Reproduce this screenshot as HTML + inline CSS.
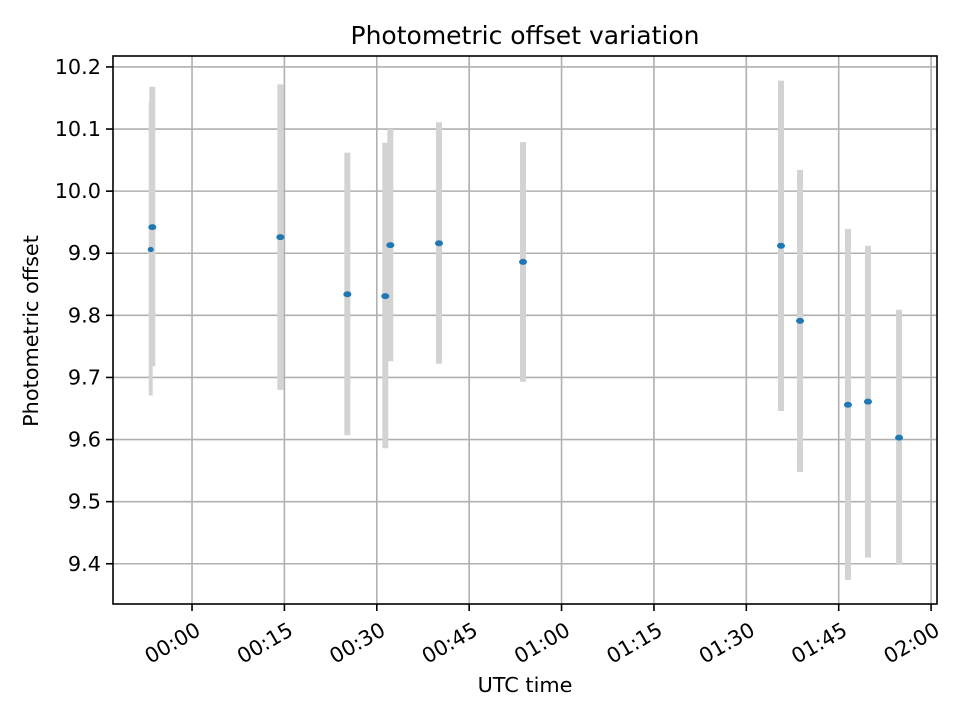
<!DOCTYPE html>
<html><head><meta charset="utf-8"><style>
body{margin:0;background:#fff}
svg{display:block;font-family:"DejaVu Sans","Liberation Sans",sans-serif}
</style></head><body>
<svg id="chart" width="960" height="720" viewBox="0 0 960 720" xmlns="http://www.w3.org/2000/svg">
<rect width="960" height="720" fill="#fff"/>
<g id="grid"></g><g id="bars"></g><g id="pts"></g><g id="axes"></g>
</svg>
<script>
const timesMin = [-6.71, -6.45, 14.34, 25.22, 31.38, 32.2, 40.1, 53.74, 95.63, 98.72, 106.5, 109.75, 114.8];
const offsets = [9.906, 9.942, 9.926, 9.834, 9.831, 9.913, 9.916, 9.886, 9.912, 9.791, 9.656, 9.661, 9.603];
const errLow = [9.671, 9.718, 9.68, 9.607, 9.586, 9.726, 9.722, 9.693, 9.646, 9.548, 9.374, 9.41, 9.398];
const errHigh = [10.143, 10.168, 10.172, 10.062, 10.078, 10.1, 10.111, 10.079, 10.178, 10.034, 9.939, 9.912, 9.809];
const yTicks = [9.4, 9.5, 9.6, 9.7, 9.8, 9.9, 10.0, 10.1, 10.2];
const xTicks = [0, 15, 30, 45, 60, 75, 90, 105, 120];
const xTickLabels = ["00:00","00:15","00:30","00:45","01:00","01:15","01:30","01:45","02:00"];

const L=113,R=937,T=56,B=604;
const xMin=-12.83,xMax=120.96,yMin=9.3352,yMax=10.2176;
const X=m=>L+(m-xMin)/(xMax-xMin)*(R-L);
const Y=v=>B-(v-yMin)/(yMax-yMin)*(B-T);
const NS="http://www.w3.org/2000/svg";
function mk(tag,attrs,parent){const e=document.createElementNS(NS,tag);for(const k in attrs)e.setAttribute(k,attrs[k]);parent.appendChild(e);return e;}
const grid=document.getElementById('grid'),bars=document.getElementById('bars'),pts=document.getElementById('pts'),axes=document.getElementById('axes');

yTicks.forEach((v,i)=>{
  const y=Y(v);
  const g=mk('line',{x1:L,x2:R,y1:y,y2:y,stroke:'#b0b0b0','stroke-width':1.6},grid);
  
  
  const t=mk('line',{x1:L-7,x2:L,y1:y,y2:y,stroke:'#000','stroke-width':1.6},axes);
  
  
  const tx=mk('text',{x:L-12,y:y+7,'text-anchor':'end','font-size':20.8,fill:'#000'},axes);
  tx.textContent=v.toFixed(1);
  
  
});
xTicks.forEach((m,i)=>{
  const x=X(m);
  const g=mk('line',{x1:x,x2:x,y1:T,y2:B,stroke:'#b0b0b0','stroke-width':1.6},grid);
  
  
  const t=mk('line',{x1:x,x2:x,y1:B,y2:B+7,stroke:'#000','stroke-width':1.6},axes);
  
  
  const tx=mk('text',{'text-anchor':'end','font-size':20.8,fill:'#000',transform:`translate(${x+3},${B+18}) rotate(-30) translate(0,14)`},axes);
  tx.textContent=xTickLabels[i];
  
  
});
timesMin.forEach((m,i)=>{
  const x=X(m);
  const b=mk('line',{x1:x,x2:x,y1:Y(errHigh[i]),y2:Y(errLow[i]),stroke:'#d3d3d3','stroke-width':i===0?4:6},bars);
  
  
});
timesMin.forEach((m,i)=>{
  const p=mk('ellipse',{cx:X(m),cy:Y(offsets[i]),rx:i===0?3:4,ry:i===0?2.6:3,fill:'#1f77b4'},pts);
  
  
});
const frame=mk('rect',{x:L,y:T,width:R-L,height:B-T,fill:'none',stroke:'#000','stroke-width':1.6},axes);


const title=mk('text',{x:525,y:44,'text-anchor':'middle','font-size':25,fill:'#000'},axes);
title.textContent='Photometric offset variation';


const xl=mk('text',{x:525,y:692,'text-anchor':'middle','font-size':20.8,fill:'#000'},axes);
xl.textContent='UTC time';


const yl=mk('text',{'text-anchor':'middle','font-size':20.8,fill:'#000',transform:`translate(38,${(T+B)/2+1}) rotate(-90)`},axes);
yl.textContent='Photometric offset';


</script>
</body></html>
